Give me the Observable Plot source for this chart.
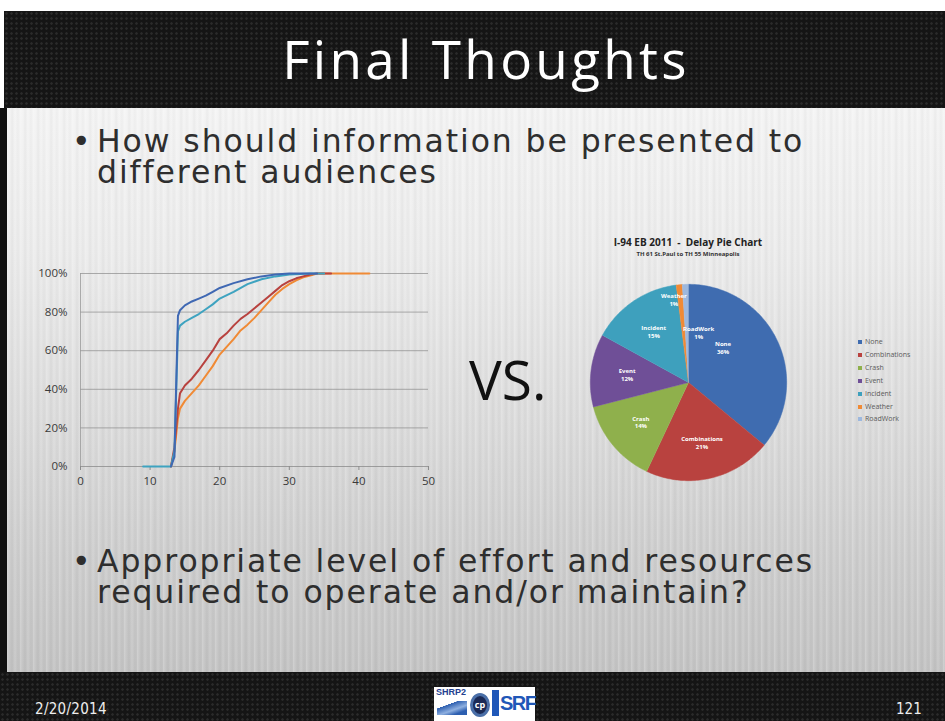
<!DOCTYPE html>
<html>
<head>
<meta charset="utf-8">
<script src="https://cdn.jsdelivr.net/npm/d3@7"></script>
<script src="https://cdn.jsdelivr.net/npm/@observablehq/plot@0.6"></script>
<style>
  html, body { margin: 0; padding: 0; }
  body { width: 945px; height: 721px; position: relative; overflow: hidden; background: #fff; font-family: "Open Sans", sans-serif; }
  .abs { position: absolute; }
  .dark { background-color: #151515;
    background-image: radial-gradient(circle at 50% 50%, #2b2b2b 0.9px, transparent 1.6px);
    background-size: 5px 5px; }
  #body { left: 0; top: 108px; width: 945px; height: 564px;
    background:
      repeating-linear-gradient(90deg, rgba(255,255,255,0.22) 0px, rgba(255,255,255,0) 3px, rgba(0,0,0,0.035) 5px, rgba(255,255,255,0.12) 8px, rgba(0,0,0,0.025) 11px, rgba(255,255,255,0) 13px),
      linear-gradient(180deg, #f4f4f4 0%, #ececec 25%, #dcdcdc 55%, #cdcdcd 80%, #c3c3c3 100%);
    border-left: 7px solid #111; box-sizing: border-box; }
  .bullet { color: #2e2e2e; font-family: "DejaVu Sans", sans-serif; font-size: 31.5px; line-height: 31px; height: 31px; letter-spacing: 1.9px; white-space: nowrap; }
  .legend div { position: absolute; font-size: 7px; color: #5a5a5a; line-height: 8px; white-space: nowrap; }
  .legend span { display: inline-block; width: 4px; height: 4px; margin-right: 3px; vertical-align: 0px; }
</style>
</head>
<body>
<div class="abs dark" style="left:4px;top:11px;width:941px;height:97px;"></div>
<div class="abs" id="body"></div>
<div class="abs dark" style="left:0;top:672px;width:945px;height:49px;"></div>

<div class="abs" style="left:0;top:28px;width:972px;text-align:center;color:#fff;font-size:53px;line-height:62px;letter-spacing:3.3px;">Final Thoughts</div>

<div class="abs bullet" style="left:72px;top:126px;">•</div>
<div class="abs bullet" style="left:97px;top:126px;">How should information be presented to</div>
<div class="abs bullet" style="left:97px;top:157px;">different audiences</div>
<div class="abs bullet" style="left:72px;top:546px;">•</div>
<div class="abs bullet" style="left:97px;top:546px;">Appropriate level of effort and resources</div>
<div class="abs bullet" style="left:97px;top:577px;">required to operate and/or maintain?</div>

<div class="abs" style="left:469px;top:347px;font-size:55px;line-height:64px;color:#111;">VS.</div>

<div class="abs" id="lineChart" style="left:30px;top:255px;"></div>

<div class="abs" style="left:588px;top:236px;width:200px;text-align:center;font-size:10px;font-weight:bold;color:#222;line-height:12px;white-space:pre;">I-94 EB 2011  -  Delay Pie Chart</div>
<div class="abs" style="left:588px;top:250px;width:200px;text-align:center;font-size:6px;font-weight:bold;color:#333;line-height:8px;">TH 61 St.Paul to TH 55 Minneapolis</div>
<div class="abs" id="pieChart" style="left:580px;top:274px;"></div>
<div class="abs legend" id="legend" style="left:858px;top:338px;"></div>

<div class="abs" style="left:35px;top:700px;color:#eee;font-family:'Liberation Sans Narrow','DejaVu Sans Condensed',sans-serif;font-size:15px;line-height:18px;letter-spacing:0.3px;">2/20/2014</div>
<div class="abs" style="left:896px;top:700px;color:#eee;font-family:'Liberation Sans Narrow','DejaVu Sans Condensed',sans-serif;font-size:15px;line-height:18px;">121</div>

<div class="abs" style="left:434px;top:687px;width:101px;height:34px;background:#fff;">
  <div class="abs" style="left:2px;top:0px;font-family:'Liberation Sans Narrow',sans-serif;font-size:9px;color:#23408f;font-weight:bold;">SHRP2</div>
  <div class="abs" style="left:3px;top:14px;width:30px;height:14px;background:linear-gradient(160deg,#fff 30%,#2d5fb0 31%,#8fb0e0 60%,#2d5fb0 80%);"></div>
  <div class="abs" style="left:36px;top:6px;width:20px;height:24px;border-radius:50%;border:3px solid #4a6fa8;box-sizing:border-box;background:#1b2a55;color:#fff;font-size:9px;text-align:center;line-height:18px;font-weight:bold;">cp</div>
  <div class="abs" style="left:58px;top:3px;width:7px;height:26px;background:#1f57b8;"></div>
  <div class="abs" style="left:66px;top:4px;font-family:'Liberation Sans Narrow',sans-serif;font-size:20px;line-height:24px;color:#1f57b8;font-weight:bold;letter-spacing:-1.5px;">SRF</div>
</div>

<script>
// ---------- Line chart data (cumulative %, x = minutes) ----------
const blueX   = [13, 13.5, 13.8, 14, 14.3, 15, 16, 17, 18, 19, 20, 22, 24, 26, 28, 30, 34];
const blueY   = [0, 5, 50, 78, 81, 83.5, 85.5, 87, 88.5, 90.5, 92.5, 95, 97, 98.5, 99.5, 100, 100];
const tealX   = [9, 13, 13.5, 13.8, 14, 14.3, 15, 16, 17, 18, 19, 20, 22, 24, 26, 28, 30, 33, 35];
const tealY   = [0, 0, 8, 45, 70, 73, 75, 77, 79, 81.5, 84, 87, 90.5, 94.5, 97, 98.5, 99.5, 100, 100];
const redX    = [13, 13.5, 14, 14.3, 15, 16, 17, 18, 19, 20, 21, 22, 23, 24, 25, 26, 27, 28, 29, 30, 31, 32, 33, 34, 36];
const redY    = [0, 10, 30, 38, 42, 45.5, 50, 55, 60, 66, 69, 73, 76.5, 79, 82, 85, 88, 91, 94, 96, 97.5, 98.5, 99.5, 100, 100];
const orangeX = [13, 13.5, 14, 14.3, 15, 16, 17, 18, 19, 20, 21, 22, 23, 24, 25, 26, 27, 28, 29, 30, 31, 32, 33, 34, 41.5];
const orangeY = [0, 8, 25, 30, 34, 38, 42, 47, 52, 58, 62, 66, 70.5, 73.5, 77, 81, 85, 89, 92, 94.5, 96.5, 98, 99, 100, 100];
const lineNames  = ["Series 1", "Series 2", "Series 3", "Series 4"];
const lineColors = ["#3f68b3", "#3ea3c0", "#b8423f", "#f08a35"];
const xTicks = [0, 10, 20, 30, 40, 50];
const yTicks = [0, 20, 40, 60, 80, 100];

// ---------- Pie chart data ----------
const pieCategories = ["None", "Combinations", "Crash", "Event", "Incident", "Weather", "RoadWork"];
const pieValues     = [36, 21, 14, 12, 15, 1, 1];
const pieLabels     = ["36%", "21%", "14%", "12%", "15%", "1%", "1%"];
const pieColors     = ["#3f6cb0", "#b9423f", "#8fb04c", "#6f4f97", "#3ea0bd", "#f08a35", "#9db8de"];

// ---------- Build line chart ----------
const lineData = [];
[[blueX, blueY], [tealX, tealY], [redX, redY], [orangeX, orangeY]].forEach(([xs, ys], i) => {
  xs.forEach((x, j) => lineData.push({series: lineNames[i], x, y: ys[j]}));
});
// draw order: red/orange under blue/teal as in reference
const drawOrder = ["Series 4", "Series 3", "Series 2", "Series 1"];
lineData.sort((a, b) => drawOrder.indexOf(a.series) - drawOrder.indexOf(b.series));

const lineChart = Plot.plot({
  width: 420, height: 245,
  marginLeft: 50, marginRight: 22, marginTop: 18, marginBottom: 34,
  style: {background: "transparent", fontFamily: "Open Sans, sans-serif", fontSize: "11.5px", color: "#3a3a3a"},
  x: {domain: [0, 50], ticks: xTicks, label: null},
  y: {domain: [0, 100], ticks: yTicks, label: null},
  color: {domain: lineNames, range: lineColors},
  marks: [
    Plot.gridY(yTicks.filter(d => d > 0), {stroke: "#8c8c8c", strokeOpacity: 0.7, strokeWidth: 1}),
    Plot.ruleY([0], {stroke: "#8c8c8c", strokeOpacity: 0.8}),
    Plot.ruleX([0], {stroke: "#9a9a9a", strokeOpacity: 0.8}),
    Plot.axisY({ticks: yTicks, tickSize: 0, tickPadding: 13, tickFormat: d => d + "%"}),
    Plot.axisX({ticks: xTicks, tickSize: 4, tickPadding: 6, stroke: "#8c8c8c", tickFormat: d => String(d)}),
    Plot.line(lineData, {x: "x", y: "y", z: "series", stroke: "series", strokeWidth: 2, curve: "linear"})
  ]
});
document.getElementById("lineChart").appendChild(lineChart);

// ---------- Build pie chart ----------
const pieGen = d3.pie().sort(null).value(d => d.value).startAngle(0).endAngle(2 * Math.PI);
const arcs = pieGen(pieCategories.map((c, i) => ({cat: c, value: pieValues[i]})));
const piePoly = [];
const pieText = [];
arcs.forEach((a, i) => {
  const cat = a.data.cat;
  piePoly.push({cat, x: 0, y: 0});
  const steps = Math.max(2, Math.ceil((a.endAngle - a.startAngle) / (Math.PI / 180)));
  for (let k = 0; k <= steps; k++) {
    const t = a.startAngle + (a.endAngle - a.startAngle) * k / steps;
    piePoly.push({cat, x: Math.sin(t), y: Math.cos(t)});
  }
  let mid = (a.startAngle + a.endAngle) / 2, rr = 0.63;
  if (cat === "None") { mid -= 0.35; rr = 0.5; }
  if (cat === "Weather") { rr = 0.86; mid -= 0.08; }
  if (cat === "RoadWork") { mid = 0.2; rr = 0.52; }
  pieText.push({text: cat + "\n" + pieLabels[i], x: rr * Math.sin(mid), y: rr * Math.cos(mid)});
});

const pieChart = Plot.plot({
  width: 216, height: 216, margin: 0,
  style: {background: "transparent", fontFamily: "Open Sans, sans-serif"},
  x: {domain: [-1.1, 1.1], axis: null},
  y: {domain: [-1.1, 1.1], axis: null},
  color: {domain: pieCategories, range: pieColors},
  marks: [
    Plot.line(piePoly, {x: "x", y: "y", z: "cat", fill: "cat", stroke: "cat", strokeWidth: 0.5, curve: "linear"}),
    Plot.text(pieText, {x: "x", y: "y", text: "text", fill: "#fff", fontSize: 6, fontWeight: "bold", lineHeight: 1.3})
  ]
});
document.getElementById("pieChart").appendChild(pieChart);

// legend
const legend = document.getElementById("legend");
pieCategories.forEach((c, i) => {
  const d = document.createElement("div");
  d.style.top = (i * 12.9) + "px";
  d.innerHTML = `<span style="background:${pieColors[i]}"></span>${c}`;
  legend.appendChild(d);
});
</script>
</body>
</html>
